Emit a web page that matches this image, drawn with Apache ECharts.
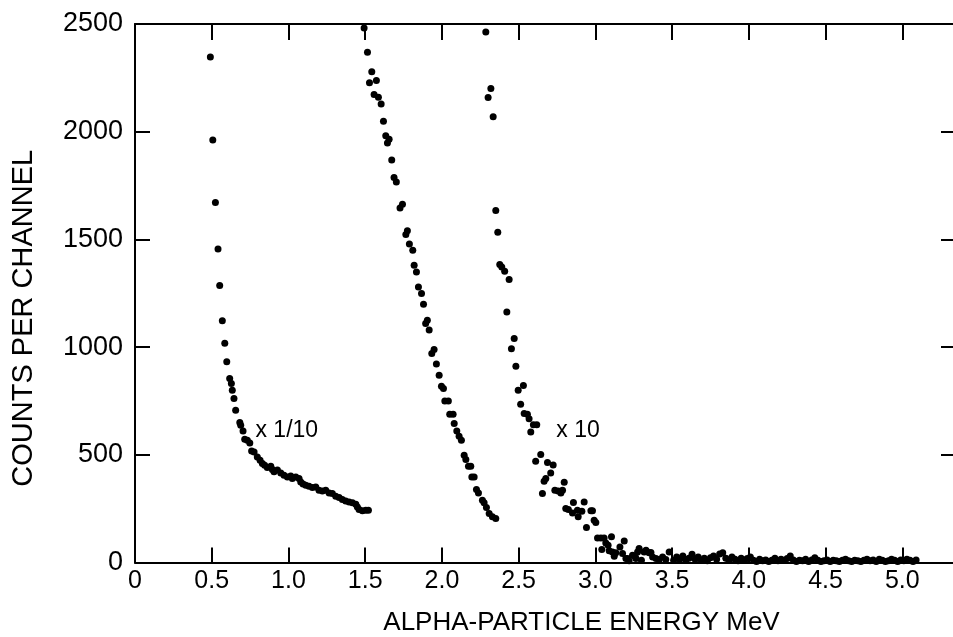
<!DOCTYPE html>
<html>
<head>
<meta charset="utf-8">
<script src="https://cdn.jsdelivr.net/npm/echarts@6/dist/echarts.min.js"></script>
<style>
html,body{margin:0;padding:0;background:#fff;}
#chart{width:953px;height:637px;}
</style>
</head>
<body>
<div id="chart"></div>
<script>
// Counts shown ×1/10 (low-energy part of the spectrum)
const seriesTenth = [
  [0.491,2347],[0.507,1961],[0.524,1671],[0.541,1456],[0.552,1286],[0.569,1122],[0.585,1018],
  [0.598,932],[0.617,854],[0.628,831],[0.634,800],[0.645,761],[0.656,707],[0.683,650],
  [0.689,637],[0.704,611],[0.715,572],[0.732,568],[0.748,555],[0.760,518],[0.776,513],
  [0.797,490],[0.815,475],[0.830,460],[0.845,452],[0.862,441],[0.885,447],[0.895,432],
  [0.906,421],[0.928,429],[0.950,416],[0.971,405],[0.993,397],[1.015,401],[1.025,390],
  [1.048,397],[1.069,390],[1.080,374],[1.095,364],[1.113,359],[1.134,354],[1.156,348],
  [1.178,351],[1.199,336],[1.221,332],[1.243,336],[1.265,323],[1.286,320],[1.308,308],
  [1.330,302],[1.351,292],[1.373,286],[1.395,281],[1.417,277],[1.439,271],[1.449,258],
  [1.460,246],[1.482,240],[1.504,243],[1.521,243]
];
// Counts shown ×1 (middle part)
const seriesOne = [
  [1.493,2482],[1.515,2369],[1.528,2227],[1.543,2278],[1.558,2173],[1.573,2238],[1.586,2160],
  [1.604,2129],[1.619,2049],[1.634,1981],[1.645,1947],[1.656,1965],[1.673,1869],[1.688,1787],
  [1.703,1767],[1.727,1646],[1.743,1663],[1.765,1523],[1.775,1540],[1.788,1479],[1.810,1450],
  [1.819,1380],[1.834,1349],[1.847,1279],[1.867,1249],[1.880,1199],[1.894,1110],[1.905,1125],
  [1.917,1079],[1.934,970],[1.949,989],[1.964,921],[1.982,869],[1.997,818],[2.010,808],
  [2.019,750],[2.042,750],[2.051,688],[2.073,688],[2.080,645],[2.097,610],[2.112,586],
  [2.127,568],[2.145,498],[2.156,478],[2.173,447],[2.188,447],[2.195,397],[2.210,397],
  [2.225,339],[2.238,323],[2.264,289],[2.275,277],[2.290,255],[2.308,227],[2.329,212],[2.351,204]
];
// Counts shown ×10 (high-energy part)
const seriesTen = [
  [2.286,2463],[2.301,2159],[2.319,2201],[2.334,2069],[2.351,1634],[2.364,1533],[2.377,1383],
  [2.390,1372],[2.409,1352],[2.423,1163],[2.438,1314],[2.453,992],[2.471,1040],[2.482,911],
  [2.497,800],[2.513,735],[2.531,822],[2.536,692],[2.557,688],[2.568,667],[2.579,606],
  [2.596,639],[2.618,639],[2.611,470],[2.644,501],[2.655,320],[2.666,377],[2.677,390],
  [2.688,464],[2.709,416],[2.725,453],[2.736,336],[2.757,332],[2.775,323],[2.786,336],
  [2.797,373],[2.807,251],[2.824,246],[2.851,230],[2.857,279],[2.883,243],[2.888,212],
  [2.912,238],[2.927,281],[2.942,162],[2.971,240],[2.981,240],[2.992,196],[3.003,186],
  [3.014,114],[3.036,114],[3.057,114],[3.042,60],[3.068,91],[3.083,80],[3.090,54],
  [3.105,119],[3.111,49],[3.123,29],[3.133,45],[3.160,72],[3.177,42],[3.188,100],
  [3.199,19],[3.209,19],[3.220,8],[3.242,34],[3.259,29],[3.264,19],[3.275,49],[3.285,65],
  [3.300,11],[3.318,49],[3.330,57],[3.350,45],[3.362,46],[3.373,26],[3.395,19],[3.416,14],
  [3.438,26],[3.459,14],[3.481,49],
  [3.51,10],[3.53,25],[3.55,15],[3.57,30],[3.59,12],[3.61,20],[3.63,38],[3.65,15],[3.67,25],
  [3.69,10],[3.71,20],[3.73,8],[3.75,22],[3.77,30],[3.79,15],[3.81,40],[3.83,45],[3.85,20],
  [3.87,10],[3.89,25],[3.91,15],[3.93,8],[3.95,20],[3.97,12],[3.99,18],[4.01,25],[4.03,10],
  [4.05,5],[4.07,15],[4.09,8],[4.11,12],[4.13,5],[4.15,10],[4.17,20],[4.19,8],[4.21,15],
  [4.23,10],[4.25,18],[4.27,30],[4.29,12],[4.31,5],[4.33,10],[4.35,8],[4.37,15],[4.39,5],
  [4.41,12],[4.43,22],[4.45,10],[4.47,5],[4.49,8],[4.51,12],[4.53,5],[4.55,10],[4.57,8],
  [4.59,5],[4.61,10],[4.63,15],[4.65,8],[4.67,5],[4.69,10],[4.71,8],[4.73,5],[4.75,10],
  [4.77,15],[4.79,8],[4.81,12],[4.83,5],[4.85,15],[4.87,10],[4.89,5],[4.91,8],[4.93,15],
  [4.95,10],[4.97,5],[4.99,12],[5.01,8],[5.03,15],[5.05,10],[5.07,5],[5.09,12]
];
// Annotation labels placed in data coordinates
const annotations = [
  {text: 'x 1/10', coord: [0.785, 612]},
  {text: 'x 10', coord: [2.745, 612]}
];
const xTickValues = [0, 0.5, 1.0, 1.5, 2.0, 2.5, 3.0, 3.5, 4.0, 4.5, 5.0];
const xTickLabels = ['0','0.5','1.0','1.5','2.0','2.5','3.0','3.5','4.0','4.5','5.0'];
const yTickLabels = ['0','500','1000','1500','2000','2500'];

const FONT = '"Liberation Sans", Arial, sans-serif';
const chart = echarts.init(document.getElementById('chart'), null, {renderer: 'canvas'});
const axisLine = {show: true, onZero: false, lineStyle: {color: '#000', width: 2}};
const tick = len => ({show: true, inside: true, length: len, lineStyle: {color: '#000', width: 2}});
const dot = {symbol: 'circle', symbolSize: 7, itemStyle: {color: '#000', opacity: 1}};

chart.setOption({
  backgroundColor: '#fff',
  animation: false,
  grid: {left: 135, top: 24, width: 821, height: 538.5, containLabel: false, outerBoundsMode: 'none'},
  xAxis: [
    {
      type: 'value', position: 'bottom', min: 0, max: 5.35, interval: 0.5,
      axisLine: axisLine, axisTick: tick(15),
      axisLabel: {
        showMaxLabel: false, color: '#000', fontSize: 25, fontFamily: FONT, margin: 6,
        formatter: v => { const i = xTickValues.findIndex(t => Math.abs(t - v) < 1e-6); return i >= 0 ? xTickLabels[i] : ''; }
      },
      splitLine: {show: false},
      name: 'ALPHA-PARTICLE ENERGY MeV', nameLocation: 'middle', nameGap: 47,
      nameTextStyle: {color: '#000', fontSize: 26, fontFamily: FONT, padding: [0, 0, 0, 72]}
    },
    {
      type: 'value', position: 'top', min: 0, max: 5.35, interval: 0.5,
      axisLine: axisLine, axisTick: tick(16),
      axisLabel: {show: false}, splitLine: {show: false}
    }
  ],
  yAxis: [
    {
      type: 'value', position: 'left', min: 0, max: 2500, interval: 500,
      axisLine: axisLine, axisTick: tick(15),
      axisLabel: {
        color: '#000', fontSize: 27, fontFamily: FONT, margin: 12,
        formatter: v => yTickLabels[Math.round(v / 500)] || ''
      },
      splitLine: {show: false},
      name: 'COUNTS PER CHANNEL', nameLocation: 'middle', nameGap: 97, nameRotate: 90,
      nameTextStyle: {color: '#000', fontSize: 29, fontFamily: FONT, padding: [0, 50, 0, 0]}
    },
    {
      type: 'value', position: 'right', min: 0, max: 2500, interval: 500,
      axisLine: axisLine, axisTick: tick(15),
      axisLabel: {show: false}, splitLine: {show: false}
    }
  ],
  series: [
    Object.assign({type: 'scatter', name: 'x1/10', data: seriesTenth}, dot),
    Object.assign({type: 'scatter', name: 'x1', data: seriesOne}, dot),
    Object.assign({type: 'scatter', name: 'x10', data: seriesTen}, dot),
    {
      type: 'scatter', name: 'labels', symbolSize: 0, silent: true,
      itemStyle: {opacity: 1},
      data: annotations.map(a => ({value: a.coord, label: {formatter: a.text}})),
      label: {show: true, position: 'right', distance: 0, color: '#000', fontSize: 23, fontFamily: FONT}
    }
  ]
});
</script>
</body>
</html>
